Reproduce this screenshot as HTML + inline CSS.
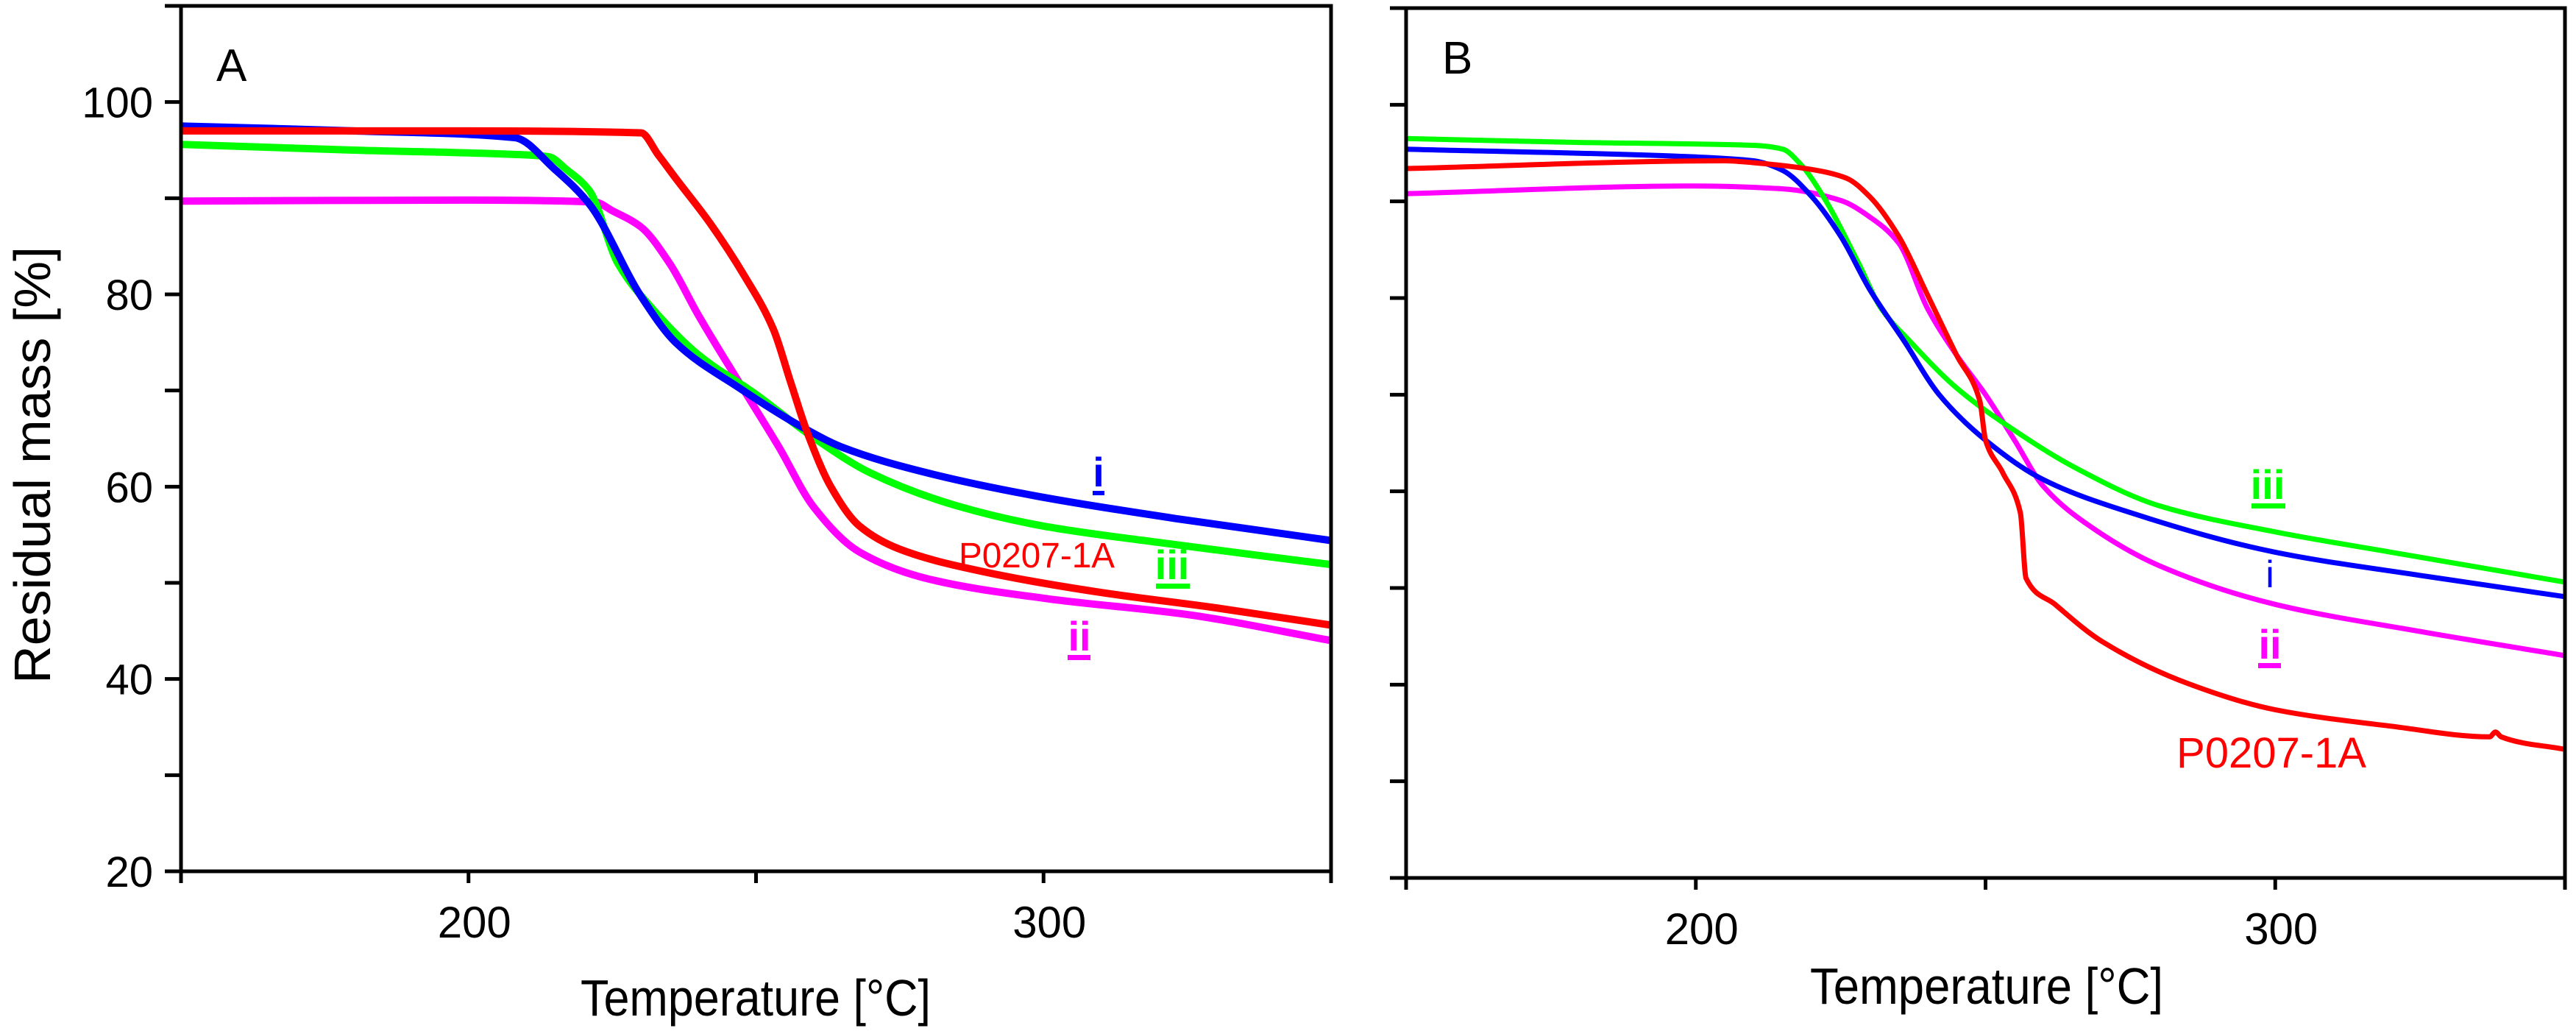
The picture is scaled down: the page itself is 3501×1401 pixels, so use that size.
<!DOCTYPE html>
<html><head><meta charset="utf-8"><style>
html,body{margin:0;padding:0;background:#fff;}
svg{display:block;}
text{font-family:"Liberation Sans",sans-serif;}
</style></head><body>
<svg id="chart" width="3501" height="1401" viewBox="0 0 3501 1401" xmlns="http://www.w3.org/2000/svg">
<rect width="3501" height="1401" fill="#fff"/>
<g id="pa"></g>
<g id="pb"></g>
<g>
<text x="0" y="0" transform="translate(68 632) rotate(-90)" font-size="70" text-anchor="middle" textLength="594" lengthAdjust="spacingAndGlyphs">Residual mass [%]</text>
<text x="1493" y="661" font-size="56" font-weight="bold" text-anchor="middle" fill="#0000ff">i</text>
<rect x="1485" y="667" width="16" height="6" fill="#0000ff"/>
<text x="1409" y="771" font-size="48" text-anchor="middle" fill="#ff0000" textLength="212" lengthAdjust="spacingAndGlyphs">P0207-1A</text>
<text x="1593" y="787" font-size="56" font-weight="bold" text-anchor="middle" fill="#00ff00">iii</text>
<rect x="1571" y="793" width="46" height="7" fill="#00ff00"/>
<text x="1467" y="884" font-size="56" font-weight="bold" text-anchor="middle" fill="#ff00ff">ii</text>
<rect x="1451" y="890" width="31" height="7" fill="#ff00ff"/>
<text x="3082" y="678" font-size="56" font-weight="bold" text-anchor="middle" fill="#00ff00">iii</text>
<rect x="3060" y="684" width="46" height="7" fill="#00ff00"/>
<text x="3085" y="798" font-size="52" text-anchor="middle" fill="#0000ff">i</text>
<text x="3085" y="895" font-size="56" font-weight="bold" text-anchor="middle" fill="#ff00ff">ii</text>
<rect x="3069" y="901" width="31" height="7" fill="#ff00ff"/>
<text x="3087" y="1043" font-size="58" text-anchor="middle" fill="#ff0000" textLength="258" lengthAdjust="spacingAndGlyphs">P0207-1A</text>
</g>
</svg>
<script>
const xTicks = [150, 200, 250, 300, 350];
const xTickLabels = ['', '200', '', '300', ''];
const yTicks = [20, 30, 40, 50, 60, 70, 80, 90, 100, 110];
const yTickLabels = ['20', '', '40', '', '60', '', '80', '', '100', ''];

// Panel A series
const aBlueT = [150,180,208,215,221,230,236,247,258,265,280,299,324,350];
const aBlueY = [97.5,97,96.3,93,89.4,79.8,75,70.3,66.2,64.1,61.4,59,56.6,54.4];
const aGreenT = [150,180,210,214,217,221,226,232,240,250,260,270,285,300,320,350];
const aGreenY = [95.6,95,94.5,94.3,93,90.8,83.2,78.5,73.7,69.6,65.1,61.4,58,55.9,54.2,51.9];
const aRedT = [150,200,230,233,236,242,248,253,256,259,263,268,275,290,310,330,350];
const aRedY = [97,97,96.8,94.5,92.1,87.4,81.9,76.4,70.9,65.5,60,55.9,53.5,51.1,49,47.4,45.6];
const aMagT = [150,200,222,225,230,235,240,247,254,260,268,280,300,325,350];
const aMagY = [89.7,89.8,89.6,88.7,87,83.2,77.8,70.9,64.1,57.9,53.2,50.4,48.4,46.7,44];

// Panel B series
const bGreenT = [150,180,210,215,218,222,228,232,237,245,255,265,280,300,320,350];
const bGreenY = [96.5,96.1,95.8,95.4,93.9,90.5,83.7,78.9,75.5,70.7,66.3,62.6,58.5,55.8,53.7,50.6];
const bBlueT = [150,200,210,215,220,225,230,236,242,250,260,275,300,325,350];
const bBlueY = [95.4,94.6,94.2,93.2,90.5,86.4,80.9,75.5,70,65.3,61.2,57.8,53.7,51.3,49.1];
const bRedT = [150,205,210,220,226,230,235,240,245,249,250,253,256,257,262,270,285,300,320,337,338,339,350];
const bRedY = [93.4,94.2,94,93.3,92.4,90.5,86.4,80.3,74.1,69.4,65.3,61.9,57.8,51,48.3,44.5,40.1,37.4,35.7,34.6,35.1,34.6,33.3];
const bMagT = [150,200,215,225,230,235,240,245,250,255,260,268,280,300,325,350];
const bMagY = [90.8,91.6,91.3,90.1,88.4,85.7,78.9,74.1,70,65.3,60.5,56.4,52.3,48.3,45.5,43];

const NS = 'http://www.w3.org/2000/svg';
function mk(parent, tag, attrs, txt){
  const e = document.createElementNS(NS, tag);
  for (const k in attrs) e.setAttribute(k, attrs[k]);
  if (txt !== undefined) e.textContent = txt;
  parent.appendChild(e);
  return e;
}
// monotone cubic (Fritsch-Carlson), no overshoot
function monoPath(pts){
  const n = pts.length, dx = [], m = [], t = [];
  for (let i = 0; i < n - 1; i++) { dx[i] = pts[i+1][0] - pts[i][0]; m[i] = (pts[i+1][1] - pts[i][1]) / dx[i]; }
  t[0] = m[0]; t[n-1] = m[n-2];
  for (let i = 1; i < n - 1; i++) {
    if (m[i-1] * m[i] <= 0) t[i] = 0;
    else { const w1 = 2*dx[i] + dx[i-1], w2 = dx[i] + 2*dx[i-1]; t[i] = (w1 + w2) / (w1 / m[i-1] + w2 / m[i]); }
  }
  let d = 'M' + pts[0][0].toFixed(1) + ' ' + pts[0][1].toFixed(1);
  for (let i = 0; i < n - 1; i++) {
    const h = dx[i] / 3;
    d += ' C' + (pts[i][0] + h).toFixed(1) + ' ' + (pts[i][1] + t[i]*h).toFixed(1) + ' ' +
         (pts[i+1][0] - h).toFixed(1) + ' ' + (pts[i+1][1] - t[i+1]*h).toFixed(1) + ' ' +
         pts[i+1][0].toFixed(1) + ' ' + pts[i+1][1].toFixed(1);
  }
  return d;
}

function panel(g, cfg){
  const xs = t => cfg.x0 + (t - 150) / 200 * (cfg.x1 - cfg.x0);
  const ys = v => cfg.y20 - (v - 20) / 90 * (cfg.y20 - cfg.y110);
  cfg.series.forEach(s => {
    const pts = s.t.map((t, i) => [xs(t), ys(s.y[i])]);
    const p = mk(g, 'path', {d: monoPath(pts), fill: 'none', stroke: s.c, 'stroke-width': cfg.lw, 'stroke-linejoin': 'round'});
    
    
  });
  const frame = mk(g, 'rect', {x: cfg.x0, y: cfg.y110, width: cfg.x1 - cfg.x0, height: cfg.y20 - cfg.y110, fill: 'none', stroke: '#000', 'stroke-width': 5});
  
  
  yTicks.forEach((v, i) => {
    const t = mk(g, 'line', {x1: cfg.x0 - 22, x2: cfg.x0, y1: ys(v), y2: ys(v), stroke: '#000', 'stroke-width': 5});
    
    
    if (cfg.yLabels && yTickLabels[i]) {
      const l = mk(g, 'text', {x: cfg.x0 - 38, y: ys(v) + 21, 'font-size': 58, 'text-anchor': 'end'}, yTickLabels[i]);
      
      
    }
  });
  xTicks.forEach((v, i) => {
    const t = mk(g, 'line', {x1: xs(v), x2: xs(v), y1: cfg.y20, y2: cfg.y20 + 16, stroke: '#000', 'stroke-width': 5});
    
    
    if (xTickLabels[i]) {
      const l = mk(g, 'text', {x: xs(v) + 8, y: cfg.y20 + 90, 'font-size': 60, 'text-anchor': 'middle'}, xTickLabels[i]);
      
      
    }
  });
  const xt = mk(g, 'text', {x: cfg.xTitleX, y: cfg.xTitleY, 'font-size': 70, 'text-anchor': 'middle', textLength: cfg.xTitleW, lengthAdjust: 'spacingAndGlyphs'}, 'Temperature [°C]');
  
  
  const pl = mk(g, 'text', {x: cfg.labX, y: cfg.labY, 'font-size': 62}, cfg.label);
  
  
}

panel(document.getElementById('pa'), {
  x0: 246, x1: 1809, y20: 1184, y110: 8, yLabels: true, lw: 10,
  xTitleX: 1027, xTitleY: 1380, xTitleW: 476, label: 'A', labX: 294, labY: 110,
  series: [
    {t: aMagT, y: aMagY, c: '#ff00ff', n: 'curve-ii'},
    {t: aGreenT, y: aGreenY, c: '#00ff00', n: 'curve-iii'},
    {t: aBlueT, y: aBlueY, c: '#0000ff', n: 'curve-i'},
    {t: aRedT, y: aRedY, c: '#ff0000', n: 'curve-p0207-1a'}
  ]
});
panel(document.getElementById('pb'), {
  x0: 1911, x1: 3486, y20: 1193, y110: 11, yLabels: false, lw: 7,
  xTitleX: 2700, xTitleY: 1364, xTitleW: 480, label: 'B', labX: 1960, labY: 100,
  series: [
    {t: bMagT, y: bMagY, c: '#ff00ff', n: 'curve-ii'},
    {t: bGreenT, y: bGreenY, c: '#00ff00', n: 'curve-iii'},
    {t: bBlueT, y: bBlueY, c: '#0000ff', n: 'curve-i'},
    {t: bRedT, y: bRedY, c: '#ff0000', n: 'curve-p0207-1a'}
  ]
});
</script>
</body></html>
